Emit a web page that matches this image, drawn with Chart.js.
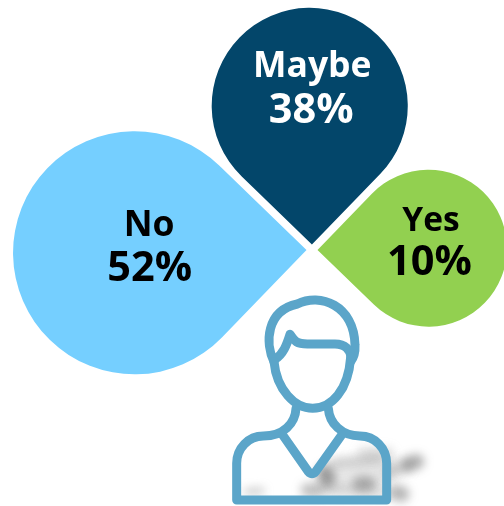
<!DOCTYPE html>
<html>
<head>
<meta charset="utf-8">
<style>
  html, body { margin: 0; padding: 0; background: #ffffff; }
  canvas { display: block; }
</style>
<script src="https://cdn.jsdelivr.net/npm/chart.js@4/dist/chart.umd.js"></script>
</head>
<body>
<canvas id="poll" width="504" height="506"></canvas>
<script>
// Poll answers, clockwise from the left-hand petal
const categories = ['No', 'Maybe', 'Yes'];
const shares = [52, 38, 10];
const petalColors = ['#75CFFF', '#03466A', '#92D050'];
const textColors = ['#000000', '#FFFFFF', '#000000'];

const SQRT2 = Math.SQRT2;
const DEG = Math.PI / 180;

// Radial scale with a power curve: the value sets the radius of a petal's round end
class PetalRadialScale extends Chart.RadialLinearScale {
  static id = 'petalRadial';
  static defaults = Chart.RadialLinearScale.defaults;
  getDistanceFromCenterForValue(value) {
    const { base, gain, exponent } = this.options.curve;
    return base + gain * Math.pow(value, exponent);
  }
}

// Arc whose wedge is drawn as a teardrop: a 90 degree point running into a circle
class PetalElement extends Chart.ArcElement {
  static id = 'petal';
  geometry() {
    const { x, y, startAngle, endAngle, outerRadius } = this.getProps(
      ['x', 'y', 'startAngle', 'endAngle', 'outerRadius']);
    const mid = (startAngle + endAngle) / 2;
    const gap = this.options.offset || 0;
    const tipX = x + Math.cos(mid) * gap;
    const tipY = y + Math.sin(mid) * gap;
    return {
      mid, tipX, tipY, r: outerRadius,
      cx: tipX + Math.cos(mid) * outerRadius * SQRT2,
      cy: tipY + Math.sin(mid) * outerRadius * SQRT2
    };
  }
  draw(ctx) {
    const { mid, tipX, tipY, r, cx, cy } = this.geometry();
    ctx.save();
    ctx.fillStyle = this.options.backgroundColor;
    ctx.beginPath();
    ctx.moveTo(tipX, tipY);
    ctx.arc(cx, cy, r, mid + 225 * DEG, mid + 135 * DEG);
    ctx.closePath();
    ctx.fill();
    ctx.restore();
  }
}

class PetalController extends Chart.PolarAreaController {
  static id = 'petalArea';
  static defaults = { ...Chart.PolarAreaController.defaults, dataElementType: 'petal' };
}

Chart.register(PetalRadialScale, PetalElement, PetalController);

// Name and share written over each petal, placed relative to its round end
const labelOffsets = [
  { name: [14.5, -16.5], share: [15, 28.5], nameSize: 35.5 },
  { name: [2.5, -29], share: [1.5, 17], nameSize: 35.5 },
  { name: [2.5, -17], share: [1, 27], nameSize: 33.5 }
];

const petalLabels = {
  id: 'petalLabels',
  afterDatasetsDraw(chart) {
    const { ctx } = chart;
    const arcs = chart.getDatasetMeta(0).data;
    ctx.save();
    ctx.textAlign = 'center';
    ctx.textBaseline = 'alphabetic';
    arcs.forEach((arc, i) => {
      const { cx, cy } = arc.geometry();
      const off = labelOffsets[i];
      ctx.fillStyle = textColors[i];
      ctx.font = `bold ${off.nameSize}px "Open Sans", sans-serif`;
      ctx.fillText(categories[i], cx + off.name[0], cy + off.name[1]);
      ctx.font = 'bold 41.5px "Open Sans", sans-serif';
      ctx.fillText(shares[i] + '%', cx + off.share[0], cy + off.share[1]);
    });
    ctx.restore();
  }
};

// Outline figure under the petals, with its soft smudge of shadow
function strokePath(ctx, build) {
  ctx.beginPath();
  build(ctx);
  ctx.stroke();
}

const personIcon = {
  id: 'personIcon',
  afterDraw(chart) {
    const { ctx } = chart;
    ctx.save();
    ctx.translate(220, 280);
    ctx.scale(1 / 3, 1 / 3);

    // Shadow smudges
    ctx.save();
    ctx.filter = 'blur(5px)';
    ctx.lineCap = 'round';
    const smudges = [
      ['rgba(130,130,130,0.18)', 100, [[340, 590], [480, 570]]],
      ['rgba(120,120,120,0.25)', 30, [[345, 548], [470, 540]]],
      ['rgba(120,120,120,0.22)', 36, [[430, 518], [505, 520]]],
      ['rgba(90,90,90,0.55)', 50, [[316, 580], [322, 596]]],
      ['rgba(90,90,90,0.40)', 40, [[262, 630], [292, 632]]],
      ['rgba(90,90,90,0.45)', 46, [[420, 612], [445, 612]]],
      ['rgba(90,90,90,0.45)', 46, [[530, 638], [545, 642]]],
      ['rgba(90,90,90,0.50)', 44, [[565, 552], [590, 545]]],
      ['rgba(110,110,110,0.30)', 40, [[510, 575], [555, 560]]],
      ['rgba(120,120,120,0.22)', 36, [[320, 628], [500, 640]]],
      ['rgba(110,110,110,0.40)', 18, [[80, 635], [125, 632]]]
    ];
    smudges.forEach(([color, width, pts]) => {
      ctx.strokeStyle = color;
      ctx.lineWidth = width;
      strokePath(ctx, c => { c.moveTo(pts[0][0], pts[0][1]); c.lineTo(pts[1][0], pts[1][1]); });
    });
    ctx.restore();

    ctx.strokeStyle = '#5BA5C9';
    ctx.lineWidth = 27;
    ctx.lineJoin = 'round';
    ctx.lineCap = 'round';

    // Hair outline
    strokePath(ctx, c => {
      c.moveTo(162, 245);
      c.bezierCurveTo(135, 190, 138, 92, 232, 72);
      c.bezierCurveTo(300, 38, 402, 75, 405, 195);
      c.bezierCurveTo(406, 215, 400, 235, 392, 245);
    });
    // Fringe
    strokePath(ctx, c => {
      c.moveTo(165, 238);
      c.bezierCurveTo(190, 222, 200, 195, 210, 163);
      c.bezierCurveTo(225, 185, 230, 192, 262, 192);
      c.lineTo(345, 192);
      c.bezierCurveTo(375, 192, 392, 210, 393, 232);
    });
    // Face
    strokePath(ctx, c => {
      c.moveTo(162, 245);
      c.bezierCurveTo(170, 330, 225, 385, 278, 385);
      c.bezierCurveTo(335, 385, 385, 330, 392, 232);
    });
    // Neck, shoulders and base of the torso
    strokePath(ctx, c => {
      c.moveTo(228, 385);
      c.bezierCurveTo(226, 430, 190, 468, 130, 468);
      c.bezierCurveTo(85, 468, 50, 505, 50, 550);
      c.lineTo(50, 660);
      c.lineTo(500, 660);
      c.lineTo(500, 550);
      c.bezierCurveTo(500, 505, 465, 468, 420, 468);
      c.bezierCurveTo(365, 468, 328, 430, 325, 385);
    });
    // Collar
    strokePath(ctx, c => {
      c.moveTo(188, 465);
      c.lineTo(265, 575);
      c.quadraticCurveTo(276, 588, 287, 575);
      c.lineTo(365, 465);
    });
    ctx.restore();
  }
};

new Chart(document.getElementById('poll'), {
  type: 'petalArea',
  data: {
    labels: categories,
    datasets: [{
      data: shares,
      backgroundColor: petalColors,
      angle: 90,
      offset: 5.5,
      clip: false
    }]
  },
  options: {
    responsive: false,
    animation: false,
    layout: { padding: { left: 121, bottom: 5 } },
    scales: {
      r: {
        type: 'petalRadial',
        display: false,
        startAngle: -135.9,
        curve: { base: 77.7, gain: 0.002741, exponent: 2.45 },
        pointLabels: { display: false }
      }
    },
    plugins: { legend: { display: false }, tooltip: { enabled: false } }
  },
  plugins: [petalLabels, personIcon]
});
</script>
</body>
</html>
